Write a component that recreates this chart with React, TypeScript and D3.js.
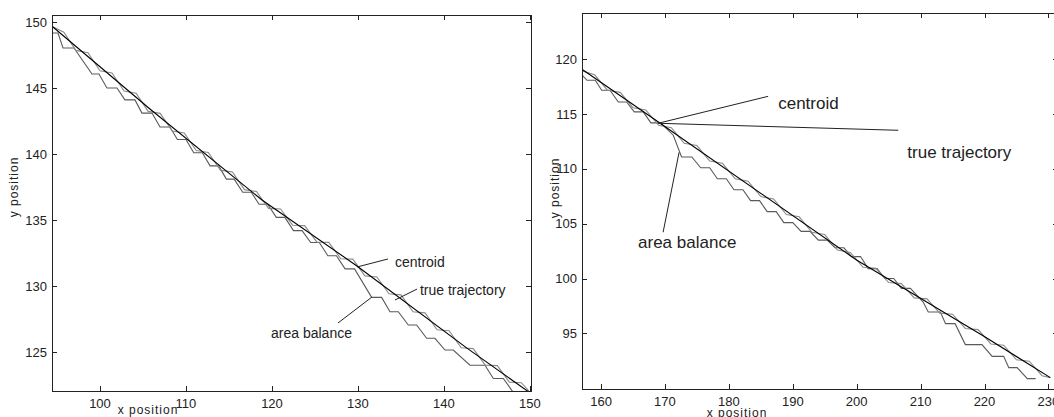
import React, { useEffect, useRef } from 'react';
import * as d3 from 'd3';

type Pt = [number, number];

// ---- left panel data ----
const leftXTicks = [100, 110, 120, 130, 140, 150];
const leftYTicks = [125, 130, 135, 140, 145, 150];

const leftTrue: Pt[] = [
  [94.53, 149.62], [105.81, 143.41], [118.84, 136.52], [129.88, 131.52], [142.67, 125.30], [149.88, 121.97],
];

const leftCentroid: Pt[] = [
  [94.45, 149.66], [95.8, 149.22], [97.2, 147.85], [98.6, 147.68], [100.0, 146.31], [101.4, 146.14],
  [102.8, 144.77], [104.2, 144.60], [105.6, 143.23], [107.0, 143.08], [108.4, 141.74], [109.8, 141.60],
  [111.2, 140.26], [112.6, 140.12], [114.0, 138.78], [115.4, 138.64], [116.8, 137.30], [118.2, 137.16],
  [119.6, 135.88], [121.0, 135.84], [122.4, 134.61], [123.8, 134.58], [125.2, 133.34], [126.6, 133.31],
  [128.0, 132.07], [129.4, 132.04], [130.8, 130.77], [132.2, 130.69], [133.6, 129.41], [135.0, 129.33],
  [136.4, 128.05], [137.8, 127.97], [139.2, 126.69], [140.6, 126.61], [142.0, 125.33], [143.4, 125.26],
  [144.8, 124.01], [146.2, 123.97], [147.6, 122.72], [149.0, 122.68], [150.2, 121.82],
];

const leftArea: Pt[] = [
  [94.42, 149.17], [95.12, 149.17], [95.70, 148.03], [96.98, 148.03], [99.07, 146.06], [99.88, 146.06],
  [100.81, 145.0], [101.98, 145.0], [102.9, 144.1], [104.07, 144.1], [104.88, 143.1], [106.05, 143.1],
  [106.98, 142.05], [108.14, 142.05], [109.0, 141.1], [110.0, 141.1], [110.9, 140.1], [111.9, 140.1],
  [112.8, 139.1], [113.8, 139.1], [114.7, 138.1], [115.6, 138.1], [116.6, 137.1], [117.6, 137.1],
  [118.5, 136.2], [119.5, 136.2], [120.5, 135.2], [121.5, 135.2], [122.5, 134.2], [123.5, 134.2],
  [124.5, 133.3], [125.5, 133.3], [126.5, 132.3], [127.5, 132.3], [128.5, 131.3], [129.6, 131.3],
  [131.59, 129.14], [132.75, 129.14], [133.72, 128.05], [134.69, 128.05], [135.85, 127.05], [136.82, 127.05],
  [137.98, 126.04], [138.95, 126.04], [140.12, 125.15], [141.08, 125.15], [143.02, 124.0], [144.77, 124.0],
  [145.74, 123.0], [146.9, 123.0], [147.87, 122.12], [148.4, 121.6],
];

// ---- right panel data ----
const rightXTicks = [160, 170, 180, 190, 200, 210, 220, 230];
const rightYTicks = [95, 100, 105, 110, 115, 120];

const rightTrue: Pt[] = [
  [157.07, 119.06], [168.97, 114.28], [200.04, 101.66], [220.1, 94.66], [230.3, 90.96],
];

const rightCentroid: Pt[] = [
  [157.0, 118.95], [159.0, 118.58], [161.0, 117.18], [163.0, 116.98], [165.0, 115.58], [167.0, 115.37],
  [169.0, 113.97], [171.0, 113.76], [173.0, 112.34], [175.0, 112.13], [177.0, 110.72], [179.0, 110.51],
  [181.0, 109.09], [183.0, 108.88], [185.0, 107.47], [187.0, 107.26], [189.0, 105.84], [191.0, 105.63],
  [193.0, 104.22], [195.0, 104.01], [197.0, 102.59], [199.0, 102.38], [201.0, 101.02], [203.0, 100.93],
  [205.0, 99.63], [207.0, 99.53], [209.0, 98.23], [211.0, 98.14], [213.0, 96.84], [215.0, 96.74],
  [217.0, 95.44], [219.0, 95.34], [221.0, 94.03], [223.0, 93.91], [225.0, 92.58], [227.0, 92.46],
  [229.0, 91.13], [230.3, 90.96],
];

const rightArea: Pt[] = [
  [157.07, 118.54], [157.8, 118.08], [159.1, 118.08], [160.1, 117.17], [161.4, 117.17], [162.7, 116.1],
  [164.0, 116.1], [165.2, 115.2], [166.6, 115.2], [167.8, 114.2], [169.3, 114.2], [171.3, 113.07],
  [172.6, 111.09], [174.2, 111.09], [175.6, 110.1], [177.0, 110.1], [178.2, 109.1], [179.6, 109.1],
  [180.8, 108.1], [182.2, 108.1], [183.4, 107.1], [184.8, 107.1], [186.0, 106.1], [187.4, 106.1],
  [188.6, 105.1], [190.0, 105.1], [191.3, 104.3], [192.7, 104.3], [194.0, 103.5], [195.4, 103.5],
  [196.6, 102.8], [198.0, 102.8], [199.2, 102.0], [200.6, 102.0], [201.8, 100.9], [203.2, 100.9],
  [204.4, 100.0], [205.8, 100.0], [207.0, 99.1], [208.4, 99.1], [210.4, 97.85], [211.2, 96.94],
  [213.1, 96.94], [213.9, 95.88], [215.4, 95.88], [217.0, 93.97], [219.6, 93.97], [221.2, 92.9],
  [223.0, 92.9], [223.8, 91.87], [225.1, 91.87], [226.7, 90.87], [228.0, 90.87],
];

// annotations: [label, leader start, leader end, text anchor point, anchor]
type Note = { text: string; from: Pt; to: Pt; at: Pt; anchor: string };
const leftNotes: Note[] = [
  { text: 'centroid', from: [129.88, 131.44], to: [133.49, 132.05], at: [134.3, 131.82], anchor: 'start' },
  { text: 'true trajectory', from: [134.3, 128.94], to: [136.86, 129.77], at: [137.21, 129.7], anchor: 'start' },
  { text: 'area balance', from: [127.67, 127.2], to: [131.63, 129.17], at: [129.3, 126.44], anchor: 'end' },
];
const rightNotes: Note[] = [
  { text: 'centroid', from: [168.93, 114.16], to: [186.15, 116.62], at: [187.72, 115.99], anchor: 'start' },
  { text: 'true trajectory', from: [168.93, 114.16], to: [206.51, 113.52], at: [207.92, 111.51], anchor: 'start' },
  { text: 'area balance', from: [172.21, 111.51], to: [169.71, 104.22], at: [165.79, 103.3], anchor: 'start' },
];

const FONT = '"Liberation Sans", Arial, sans-serif';

const App = () => {
  const ref = useRef<SVGSVGElement>(null);

  useEffect(() => {
    if (!ref.current) return;
    const svg = d3.select(ref.current);
    svg.selectAll('*').remove();

    const panels = [
      {
        id: 'l', x0: 52, x1: 531, y0: 15, y1: 391,
        xd: [94.42, 150.12], yd: [122.05, 150.53],
        xt: leftXTicks, yt: leftYTicks,
        tr: leftTrue, ce: leftCentroid, ab: leftArea, notes: leftNotes, noteSize: 14,
        ylab: [14, 187], xlab: [148, 410],
      },
      {
        id: 'r', x0: 582, x1: 1058, y0: 13, y1: 389,
        xd: [157.02, 231.5], yd: [89.92, 124.22],
        xt: rightXTicks, yt: rightYTicks,
        tr: rightTrue, ce: rightCentroid, ab: rightArea, notes: rightNotes, noteSize: 17,
        ylab: [555, 188], xlab: [737, 413],
      },
    ];

    panels.forEach(p => {
      const x = d3.scaleLinear().domain(p.xd).range([p.x0, p.x1]);
      const y = d3.scaleLinear().domain(p.yd).range([p.y1, p.y0]);
      const g = svg.append('g');

      svg.append('clipPath').attr('id', 'clip-' + p.id)
        .append('rect')
        .attr('x', p.x0).attr('y', p.y0)
        .attr('width', p.x1 - p.x0).attr('height', p.y1 - p.y0);

      const line = d3.line<Pt>().x(d => x(d[0])).y(d => y(d[1]));
      const lines = g.append('g').attr('clip-path', `url(#clip-${p.id})`);
      lines.append('path').datum(p.ab).attr('d', line)
        .attr('fill', 'none').attr('stroke', '#5a5a5a').attr('stroke-width', 1.1);
      lines.append('path').datum(p.ce).attr('d', line)
        .attr('fill', 'none').attr('stroke', '#8a8a8a').attr('stroke-width', 1.1);
      lines.append('path').datum(p.tr).attr('d', line)
        .attr('fill', 'none').attr('stroke', '#000').attr('stroke-width', 1.1);

      // box
      g.append('rect')
        .attr('x', p.x0 + 0.5).attr('y', p.y0 + 0.5)
        .attr('width', p.x1 - p.x0).attr('height', p.y1 - p.y0)
        .attr('fill', 'none').attr('stroke', '#222').attr('stroke-width', 1);

      // ticks, pointing inwards on all sides
      const tk = 5;
      p.xt.forEach(v => {
        const px = Math.round(x(v)) + 0.5;
        g.append('line').attr('x1', px).attr('x2', px).attr('y1', p.y1).attr('y2', p.y1 - tk).attr('stroke', '#222');
        g.append('line').attr('x1', px).attr('x2', px).attr('y1', p.y0).attr('y2', p.y0 + tk).attr('stroke', '#222');
        g.append('text').attr('x', x(v)).attr('y', p.y1 + 12).attr('dy', '0.35em')
          .attr('text-anchor', 'middle').attr('font-family', FONT).attr('font-size', 13)
          .attr('fill', '#222').text(v);
      });
      p.yt.forEach(v => {
        const py = Math.round(y(v)) + 0.5;
        g.append('line').attr('x1', p.x0).attr('x2', p.x0 + tk).attr('y1', py).attr('y2', py).attr('stroke', '#222');
        g.append('line').attr('x1', p.x1).attr('x2', p.x1 - tk).attr('y1', py).attr('y2', py).attr('stroke', '#222');
        g.append('text').attr('x', p.x0 - 5).attr('y', y(v)).attr('dy', '0.35em')
          .attr('text-anchor', 'end').attr('font-family', FONT).attr('font-size', 13)
          .attr('fill', '#222').text(v);
      });

      // axis labels
      g.append('text')
        .attr('transform', `translate(${p.ylab[0]},${p.ylab[1]}) rotate(-90)`)
        .attr('dy', '0.35em').attr('text-anchor', 'middle')
        .attr('font-family', FONT).attr('font-size', 12).attr('letter-spacing', 1)
        .attr('fill', '#222').text('y position');
      g.append('text')
        .attr('x', p.xlab[0]).attr('y', p.xlab[1]).attr('dy', '0.35em')
        .attr('text-anchor', 'middle')
        .attr('font-family', FONT).attr('font-size', 12).attr('letter-spacing', 1)
        .attr('fill', '#222').text('x position');

      // annotations
      p.notes.forEach(n => {
        g.append('line')
          .attr('x1', x(n.from[0])).attr('y1', y(n.from[1]))
          .attr('x2', x(n.to[0])).attr('y2', y(n.to[1]))
          .attr('stroke', '#222').attr('stroke-width', 1);
        g.append('text')
          .attr('x', x(n.at[0])).attr('y', y(n.at[1])).attr('dy', '0.35em')
          .attr('text-anchor', n.anchor)
          .attr('font-family', FONT).attr('font-size', p.noteSize)
          .attr('fill', '#222').text(n.text);
      });
    });
  }, []);

  return (
    <div style={{ position: 'fixed', left: 0, top: 0, width: 1054, height: 417, background: '#fff' }}>
      <svg ref={ref} width={1054} height={417} style={{ display: 'block' }} />
    </div>
  );
};

export default App;
